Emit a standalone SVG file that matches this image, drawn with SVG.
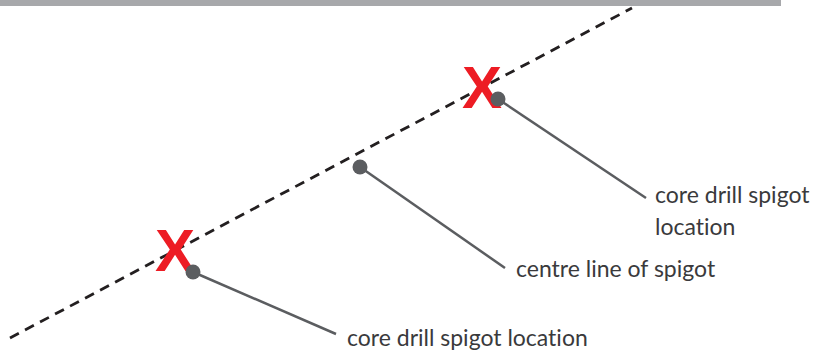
<svg xmlns="http://www.w3.org/2000/svg" width="829" height="353" viewBox="0 0 829 353">
<style>
.lbl{font-family:Lato,"Open Sans","Liberation Sans",sans-serif;font-size:23px;fill:#3a3a3c;font-variant-ligatures:none;font-feature-settings:"liga" 0,"dlig" 0}
.lead{stroke:#5b5d60;stroke-width:2.5;fill:none}
.dot{fill:#5b5d60}
.x{font-family:"Liberation Sans",Arial,sans-serif;font-weight:bold;font-size:60px;fill:#ed1c24;text-anchor:middle}
</style>
<rect x="0" y="0" width="781" height="6" fill="#a7a8ab"/>
<g id="connectors">
<line x1="10" y1="338" x2="632" y2="8" stroke="#231f20" stroke-width="2.8" stroke-dasharray="10 7"/>
<line class="lead" x1="193" y1="272" x2="336" y2="334"/>
<line class="lead" x1="360" y1="167" x2="505" y2="268"/>
<line class="lead" x1="498" y1="99" x2="646" y2="198"/>
</g>
<g id="x-top"><text class="x" x="482" y="108">X</text></g>
<g id="x-bottom"><text class="x" x="175" y="271">X</text></g>
<g id="node-top"><circle class="dot" cx="498" cy="99" r="7.5"/>
<text class="lbl" x="655" y="203">core drill spigot</text>
<text class="lbl" x="655" y="235">location</text></g>
<g id="node-centre"><circle class="dot" cx="360" cy="167" r="7.5"/>
<text class="lbl" x="516" y="277">centre line of spigot</text></g>
<g id="node-bottom"><circle class="dot" cx="193" cy="272" r="7.5"/>
<text class="lbl" x="347" y="346">core drill spigot location</text></g>
</svg>
